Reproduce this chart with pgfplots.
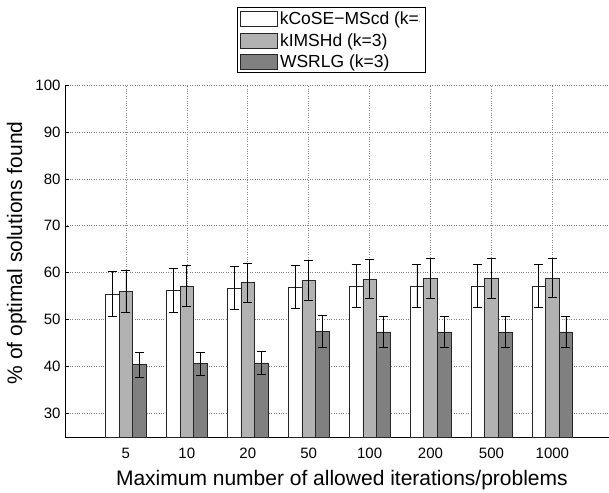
\documentclass[border=0pt]{standalone}
\usepackage{pgfplots}
\pgfplotsset{compat=1.18}
\usepackage{fontspec}
\setmainfont{Liberation Sans}
\definecolor{barlight}{RGB}{178,178,178}
\definecolor{bardark}{RGB}{128,128,128}
\pgfplotsset{
  myerr/.style={
    error bars/.cd, y dir=both, y explicit,
    error bar style={black, line width=0.7pt},
    error mark options={rotate=90, black, line width=0.7pt, mark size=4.5pt},
  },
}
\newcommand{\clippedtext}[2]{\begin{tikzpicture}[baseline=0pt]\useasboundingbox (0pt,-5pt) rectangle (#1,13pt);\clip (0pt,-6pt) rectangle (#1,17pt); \node[anchor=base west, inner sep=0pt, outer sep=0pt] at (0pt,0pt) {#2};\end{tikzpicture}}
\begin{document}
\begin{tikzpicture}
\begin{axis}[
  scale only axis, width=544pt, height=352pt,
  xmin=0, xmax=8.93, ymin=25, ymax=100,
  ybar=0pt, bar width=0.223,
  xtick={1,...,8}, xticklabels={5,10,20,50,100,200,500,1000},
  ytick={30,40,...,100},
  axis x line*=bottom, axis y line*=left,
  axis line style={black, line width=0.7pt},
  tick align=inside, major tick length=4pt,
  tick style={black, line width=0.5pt},
  grid=major, major grid style={dotted, gray, line width=0.6pt},
  /pgf/number format/assume math mode=true,
  ticklabel style={font=\fontsize{15}{17}\selectfont},
  xticklabel style={anchor=base, yshift=-21pt},
  yticklabel style={xshift=-1pt},
  label style={font=\fontsize{21}{25}\selectfont},
  xlabel={Maximum number of allowed iterations/problems},
  ylabel={\% of optimal solutions found},
  xlabel style={at={(axis description cs:0.509,-0.139)}, anchor=base},
  ylabel style={at={(axis description cs:-0.079,0.523)}, anchor=base},
  legend cell align=left,
  legend image code/.code={\draw[#1, draw=black!85, line width=0.6pt] (0pt,-7.5pt) rectangle (37pt,7.5pt);},
  legend style={at={(0.316,1.034)}, anchor=south west, draw=black, line width=0.7pt,
    font=\fontsize{17.5}{19}\selectfont, inner xsep=3pt, inner ysep=1.5pt, row sep=3.5pt},
]
\addplot[fill=white, draw=black!85, line width=0.6pt, myerr] coordinates {
 (1,55.5) +- (0,4.8)
 (2,56.3) +- (0,4.7)
 (3,56.7) +- (0,4.6)
 (4,57.0) +- (0,4.6)
 (5,57.2) +- (0,4.5)
 (6,57.2) +- (0,4.5)
 (7,57.2) +- (0,4.5)
 (8,57.2) +- (0,4.5)
};
\addlegendentry{\clippedtext{140pt}{kCoSE−MScd (k=3)}}
\addplot[fill=barlight, draw=black!85, line width=0.6pt, myerr] coordinates {
 (1,56.1) +- (0,4.5)
 (2,57.2) +- (0,4.3)
 (3,57.9) +- (0,4.2)
 (4,58.4) +- (0,4.2)
 (5,58.7) +- (0,4.2)
 (6,58.8) +- (0,4.2)
 (7,58.8) +- (0,4.2)
 (8,58.9) +- (0,4.2)
};
\addlegendentry{kIMSHd (k=3)}
\addplot[fill=bardark, draw=black!85, line width=0.6pt, myerr] coordinates {
 (1,40.4) +- (0,2.6)
 (2,40.6) +- (0,2.5)
 (3,40.8) +- (0,2.5)
 (4,47.5) +- (0,3.4)
 (5,47.4) +- (0,3.4)
 (6,47.4) +- (0,3.4)
 (7,47.4) +- (0,3.4)
 (8,47.4) +- (0,3.4)
};
\addlegendentry{WSRLG (k=3)}
\coordinate (sw) at (rel axis cs:0,0);
\coordinate (ne) at (rel axis cs:1,1);
\end{axis}
\pgfresetboundingbox
\path ([xshift=-65pt,yshift=-55pt]sw) rectangle ([yshift=85pt]ne);
\end{tikzpicture}
\end{document}
